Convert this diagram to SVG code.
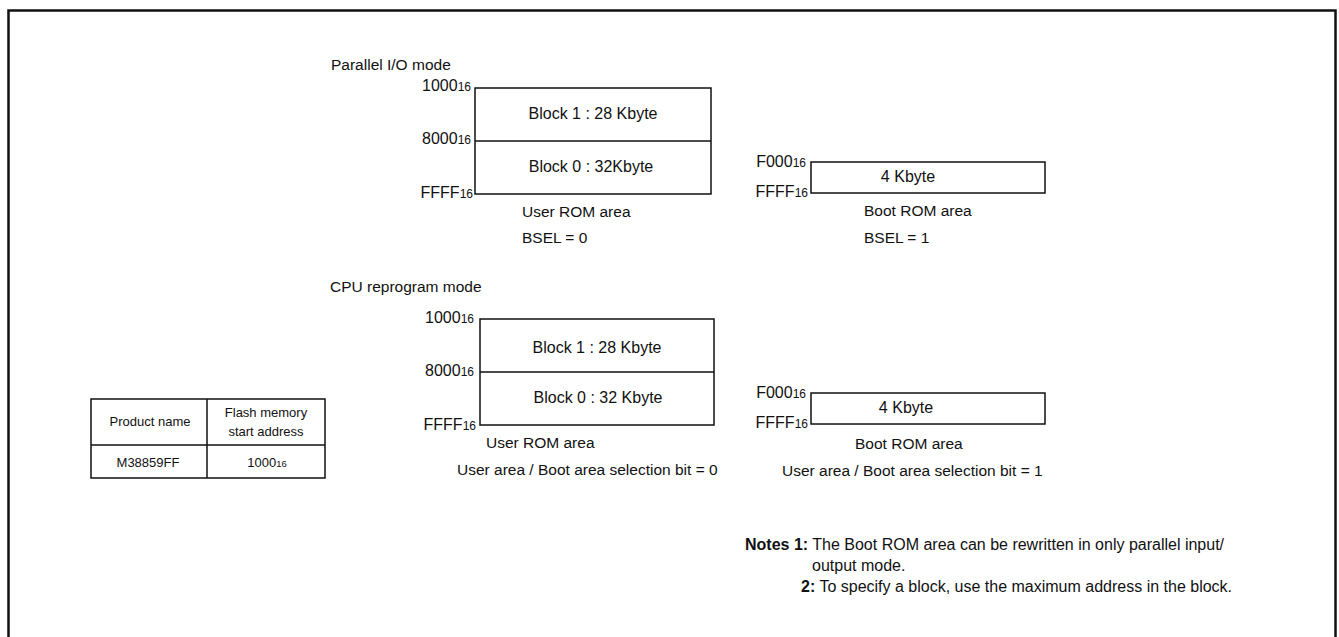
<svg xmlns="http://www.w3.org/2000/svg" width="1339" height="637" viewBox="0 0 1339 637">
<style>
text{font-family:"Liberation Sans",Arial,sans-serif;fill:#111;}
.t{font-size:15.5px;}
.k{font-size:16px;}
.a{font-size:16px;}
.s{font-size:12px;}
.tb{font-size:13px;}
.n{font-size:16px;}
.b{font-weight:bold;}
.box{fill:#fff;stroke:#111;stroke-width:1.5;}
.ln{stroke:#111;stroke-width:1.5;fill:none;}
</style>
<rect x="0" y="0" width="1339" height="637" fill="#fff"/>
<rect x="8.5" y="10.5" width="1327" height="700" fill="none" stroke="#111" stroke-width="2.5"/>

<text class="t" x="331" y="70">Parallel I/O mode</text>
<text class="t" x="330" y="292">CPU reprogram mode</text>

<g id="user-rom-pio">
<rect class="box" x="475" y="88" width="236" height="106"/>
<line class="ln" x1="475" y1="141" x2="711" y2="141"/>
<text class="k" x="593" y="119" text-anchor="middle">Block 1 : 28 Kbyte</text>
<text class="k" x="591" y="172" text-anchor="middle">Block 0 : 32Kbyte</text>
<text class="a" x="471" y="91" text-anchor="end">1000<tspan class="s">16</tspan></text>
<text class="a" x="471" y="144" text-anchor="end">8000<tspan class="s">16</tspan></text>
<text class="a" x="473" y="198" text-anchor="end">FFFF<tspan class="s">16</tspan></text>
<text class="t" x="522" y="217">User ROM area</text>
<text class="t" x="522" y="243">BSEL = 0</text>
</g>

<g id="boot-rom-pio">
<rect class="box" x="811" y="162" width="234" height="31"/>
<text class="k" x="908" y="182" text-anchor="middle">4 Kbyte</text>
<text class="a" x="806" y="167" text-anchor="end">F000<tspan class="s">16</tspan></text>
<text class="a" x="808" y="197" text-anchor="end">FFFF<tspan class="s">16</tspan></text>
<text class="t" x="864" y="216">Boot ROM area</text>
<text class="t" x="864" y="243">BSEL = 1</text>
</g>

<g id="user-rom-cpu">
<rect class="box" x="480" y="319" width="234" height="106"/>
<line class="ln" x1="480" y1="372" x2="714" y2="372"/>
<text class="k" x="597" y="353" text-anchor="middle">Block 1 : 28 Kbyte</text>
<text class="k" x="598" y="403" text-anchor="middle">Block 0 : 32 Kbyte</text>
<text class="a" x="474" y="323" text-anchor="end">1000<tspan class="s">16</tspan></text>
<text class="a" x="474" y="376" text-anchor="end">8000<tspan class="s">16</tspan></text>
<text class="a" x="476" y="430" text-anchor="end">FFFF<tspan class="s">16</tspan></text>
<text class="t" x="486" y="448">User ROM area</text>
<text class="t" x="457" y="475">User area / Boot area selection bit = 0</text>
</g>

<g id="boot-rom-cpu">
<rect class="box" x="811" y="393" width="234" height="31"/>
<text class="k" x="906" y="413" text-anchor="middle">4 Kbyte</text>
<text class="a" x="806" y="398" text-anchor="end">F000<tspan class="s">16</tspan></text>
<text class="a" x="808" y="428" text-anchor="end">FFFF<tspan class="s">16</tspan></text>
<text class="t" x="855" y="449">Boot ROM area</text>
<text class="t" x="782" y="476">User area / Boot area selection bit = 1</text>
</g>

<g id="product-table">
<rect class="box" x="91" y="399" width="234" height="79"/>
<line class="ln" x1="91" y1="445" x2="325" y2="445"/>
<line class="ln" x1="207" y1="399" x2="207" y2="478"/>
<text class="tb" x="150" y="426" text-anchor="middle">Product name</text>
<text class="tb" x="266" y="417" text-anchor="middle">Flash memory</text>
<text class="tb" x="266" y="436" text-anchor="middle">start address</text>
<text class="tb" x="148" y="467" text-anchor="middle">M38859FF</text>
<text class="tb" x="267" y="467" text-anchor="middle">1000<tspan font-size="9.5px">16</tspan></text>
</g>

<g id="notes">
<text class="n" x="745" y="550"><tspan class="b">Notes 1:</tspan> The Boot ROM area can be rewritten in only parallel input/</text>
<text class="n" x="812" y="571">output mode.</text>
<text class="n" x="801" y="592"><tspan class="b">2:</tspan> To specify a block, use the maximum address in the block.</text>
</g>
</svg>
